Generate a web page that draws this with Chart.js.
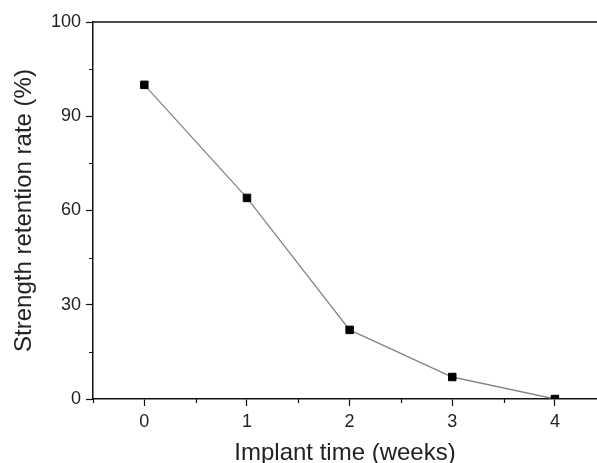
<!DOCTYPE html>
<html>
<head>
<meta charset="utf-8">
<script src="https://cdn.jsdelivr.net/npm/chart.js@4"></script>
<style>
  body { margin: 0; background: #fff; }
  #wrap { width: 597px; height: 463px; }
</style>
</head>
<body>
<div id="wrap"><canvas id="chart" width="597" height="463"></canvas></div>
<script>
// Data
const weeks = [0, 1, 2, 3, 4];
const retention = [100, 64, 22, 7, 0];

// Axis ticks (top tick of the y axis is printed as "100" in the original)
const xTickValues = [0, 1, 2, 3, 4];
const xTickLabels = ['0', '1', '2', '3', '4'];
const xMinorValues = [-0.5, 0.5, 1.5, 2.5, 3.5];
const yTickValues = [0, 30, 60, 90, 120];
const yTickLabels = ['0', '30', '60', '90', '100'];
const yMinorValues = [15, 45, 75, 105];

const tickFont = { family: 'Liberation Sans, Arial, sans-serif', size: 18 };
const titleFont = { family: 'Liberation Sans, Arial, sans-serif', size: 24 };

// minor ticks + top frame line
const framePlugin = {
    id: 'frame',
    afterDraw(chart) {
        const ctx = chart.ctx;
        const area = chart.chartArea;
        const xs = chart.scales.x;
        const ys = chart.scales.y;
        ctx.save();
        ctx.strokeStyle = '#111';
        ctx.lineWidth = 1.5;
        ctx.beginPath();
        ctx.moveTo(area.left, area.top);
        ctx.lineTo(chart.width, area.top);
        ctx.stroke();

        ctx.lineWidth = 1.2;
        ctx.beginPath();
        xMinorValues.forEach(v => {
            const px = Math.round(xs.getPixelForValue(v)) + 0.5;
            ctx.moveTo(px, area.bottom);
            ctx.lineTo(px, area.bottom + 4);
        });
        yMinorValues.forEach(v => {
            const py = Math.round(ys.getPixelForValue(v)) + 0.5;
            ctx.moveTo(area.left, py);
            ctx.lineTo(area.left - 4, py);
        });
        ctx.stroke();
        ctx.restore();
    }
};

new Chart(document.getElementById('chart'), {
    type: 'line',
    data: {
        datasets: [{
            data: weeks.map((w, i) => ({ x: w, y: retention[i] })),
            borderColor: '#858585',
            borderWidth: 1.3,
            pointStyle: 'rect',
            pointRadius: 5.3,
            pointBackgroundColor: '#000',
            pointBorderColor: '#000',
            pointBorderWidth: 1,
            tension: 0
        }]
    },
    options: {
        responsive: false,
        animation: false,
        events: [],
        layout: {
            autoPadding: false,
            padding: { top: 22, right: 0, bottom: 0, left: 0 }
        },
        plugins: {
            legend: { display: false },
            tooltip: { enabled: false }
        },
        scales: {
            x: {
                type: 'linear',
                min: -0.5,
                max: 4.41,
                afterBuildTicks: (scale) => {
                    scale.ticks = xTickValues.map(v => ({ value: v }));
                },
                afterFit: (scale) => { scale.height = 64; },
                grid: {
                    display: true,
                    drawOnChartArea: false,
                    drawTicks: true,
                    tickLength: 7,
                    tickColor: '#111',
                    tickWidth: 1.2
                },
                border: { display: true, color: '#111', width: 1.5 },
                ticks: {
                    color: '#222',
                    font: tickFont,
                    padding: 5,
                    maxRotation: 0,
                    callback: (v) => xTickLabels[xTickValues.indexOf(v)]
                },
                title: {
                    display: true,
                    text: 'Implant time (weeks)',
                    color: '#222',
                    font: titleFont,
                    padding: { top: 0, bottom: -5 }
                }
            },
            y: {
                min: 0,
                max: 120,
                afterBuildTicks: (scale) => {
                    scale.ticks = yTickValues.map(v => ({ value: v }));
                },
                afterFit: (scale) => { scale.width = 93; },
                grid: {
                    display: true,
                    drawOnChartArea: false,
                    drawTicks: true,
                    tickLength: 7,
                    tickColor: '#111',
                    tickWidth: 1.2
                },
                border: { display: true, color: '#111', width: 1.5 },
                ticks: {
                    color: '#222',
                    font: tickFont,
                    padding: 5,
                    callback: (v) => yTickLabels[yTickValues.indexOf(v)]
                },
                title: {
                    display: true,
                    text: 'Strength retention rate (%)',
                    color: '#222',
                    font: titleFont,
                    padding: { top: 10, bottom: 0 }
                }
            }
        }
    },
    plugins: [framePlugin]
});
</script>
</body>
</html>
